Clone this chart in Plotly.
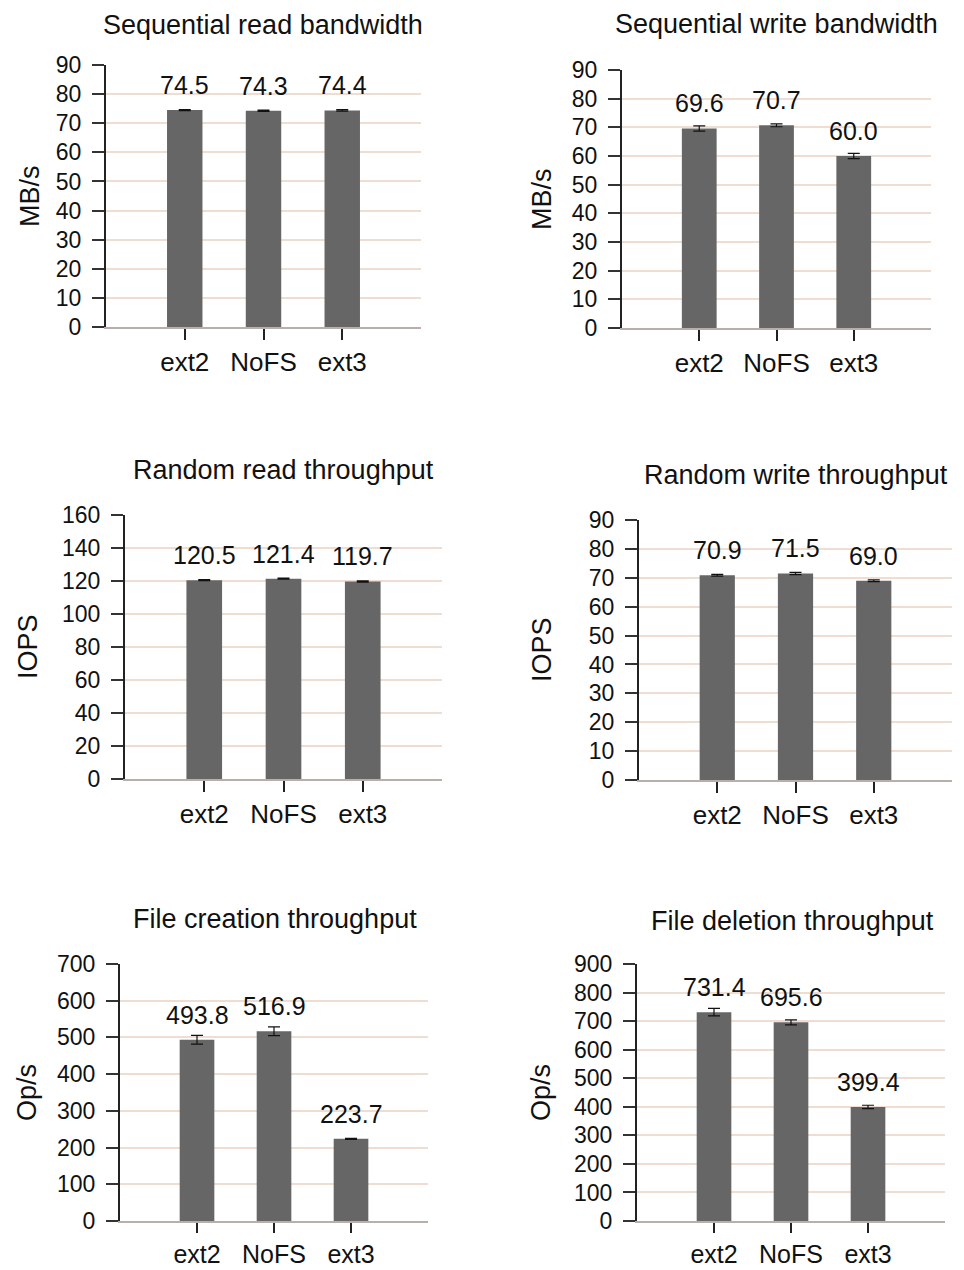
import plotly.graph_objects as go

categories = ["ext2", "NoFS", "ext3"]

seq_read = [74.5, 74.3, 74.4]
seq_read_err = [0.2, 0.2, 0.25]
seq_write = [69.6, 70.7, 60.0]
seq_write_err = [0.9, 0.5, 0.9]
rand_read = [120.5, 121.4, 119.7]
rand_read_err = [0.3, 0.3, 0.4]
rand_write = [70.9, 71.5, 69.0]
rand_write_err = [0.3, 0.4, 0.3]
file_create = [493.8, 516.9, 223.7]
file_create_err = [12.0, 12.0, 1.5]
file_delete = [731.4, 695.6, 399.4]
file_delete_err = [13.0, 9.0, 6.0]

titles = ["Sequential read bandwidth", "Sequential write bandwidth",
          "Random read throughput", "Random write throughput",
          "File creation throughput", "File deletion throughput"]
units = ["MB/s", "MB/s", "IOPS", "IOPS", "Op/s", "Op/s"]
y_max = [90, 90, 160, 90, 700, 900]
y_step = [10, 10, 20, 10, 100, 100]

values = [seq_read, seq_write, rand_read, rand_write, file_create, file_delete]
errors = [seq_read_err, seq_write_err, rand_read_err, rand_write_err,
          file_create_err, file_delete_err]

OFF = 8  # default page body margin in the browser
W, H = 964 - OFF, 1270 - OFF
# plot-area pixel boxes in the target picture: left, right, top, bottom
boxes = [(106, 421, 65, 327), (622, 931, 70, 328),
         (125, 442, 515, 779), (639, 952, 520, 780),
         (120, 428, 964, 1221), (637, 945, 964, 1221)]
title_pos = [(263, 25), (776, 24), (283, 470), (796, 475), (275, 919), (792, 921)]
ytitle_pos = [(30, 196), (542, 199), (28, 647), (542, 650), (27, 1093), (541, 1093)]
xfont = [26, 26, 26, 26, 25, 25]
xticklen = [11, 11, 11, 11, 10, 10]

FONT = "Liberation Sans, Arial, Helvetica, sans-serif"
BAR = "#666666"
GRID = "#f0ddd2"
XLINE = "#b9aeaa"


def px(x):
    return (x - OFF) / W


def py(y):
    return 1 - (y - OFF) / H


fig = go.Figure()
annotations = []
layout = {}
for i in range(6):
    n = "" if i == 0 else str(i + 1)
    xa, ya = "x" + n, "y" + n
    l, r, t, b = boxes[i]
    fig.add_trace(go.Bar(
        x=categories, y=values[i], xaxis=xa, yaxis=ya,
        marker=dict(color=BAR, line=dict(width=0)), width=0.45,
        error_y=dict(type="data", array=errors[i], color="#111111",
                     thickness=1.2, width=6),
        showlegend=False, hoverinfo="skip"))
    layout["xaxis" + n] = dict(
        domain=[px(l), px(r)], anchor=ya, type="category",
        range=[-1, 3], showline=True, linecolor=XLINE, linewidth=2,
        ticks="outside", ticklen=xticklen[i], tickwidth=2, tickcolor="#222222",
        showgrid=False, zeroline=False, ticklabelstandoff=0, automargin=False,
        tickfont=dict(family=FONT, size=xfont[i], color="#111111"),
        fixedrange=True)
    layout["yaxis" + n] = dict(
        domain=[py(b), py(t)], anchor=xa,
        range=[0, y_max[i]], dtick=y_step[i], tick0=0,
        showline=True, linecolor="#222222", linewidth=2,
        ticks="outside", ticklen=12, tickwidth=2, tickcolor="#333333",
        showgrid=True, gridcolor=GRID, gridwidth=1.5, zeroline=False,
        ticklabelstandoff=6, automargin=False,
        tickfont=dict(family=FONT, size=23, color="#111111"), fixedrange=True)
    for c, v in zip(categories, values[i]):
        annotations.append(dict(
            x=c, y=v, xref=xa, yref=ya, text=f"{v:.1f}", showarrow=False,
            yanchor="middle", yshift=25,
            font=dict(family=FONT, size=25, color="#111111")))
    tx, ty = title_pos[i]
    annotations.append(dict(
        x=px(tx), y=py(ty), xref="paper", yref="paper", text=titles[i],
        showarrow=False, xanchor="center", yanchor="middle", borderpad=0,
        font=dict(family=FONT, size=27, color="#111111")))
    ux, uy = ytitle_pos[i]
    annotations.append(dict(
        x=px(ux), y=py(uy), xref="paper", yref="paper", text=units[i],
        showarrow=False, xanchor="center", yanchor="middle", textangle=-90,
        font=dict(family=FONT, size=27, color="#111111")))

fig.update_layout(
    width=W, height=H, margin=dict(l=0, r=0, t=0, b=0, autoexpand=False),
    paper_bgcolor="white", plot_bgcolor="white", template="none",
    annotations=annotations, bargap=0.5, **layout)

fig.write_html("out.html", config={"displayModeBar": False})
